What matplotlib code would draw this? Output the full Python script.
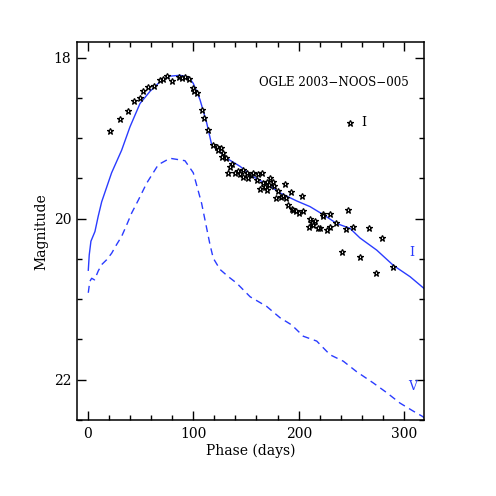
import matplotlib
matplotlib.use("Agg")
import matplotlib.pyplot as plt
from matplotlib.ticker import MultipleLocator

# Observed I-band photometry (phase in days, magnitude)
obs_phase = [21.1, 30.6, 38.5, 43.6, 49.3, 52.4, 56.9, 63.2, 68.2, 71.7, 75.2, 79.6,
             86.3, 89.4, 92.5, 95.7, 99.5, 101.0, 103.3, 108.6, 110.2, 114.3,
             119.1, 122.3, 126.0, 123.8, 128.5, 127.6, 131.1, 136.5, 134.9, 133.3,
             139.6, 142.8, 144.4, 147.5, 146.9, 150.7, 152.2, 154.5, 156.4, 161.7,
             164.9, 160.2, 165.9, 169.7, 163.3, 168.1, 172.1, 170.2, 172.8, 175.9,
             176.6, 180.7, 178.5, 182.9, 185.4, 188.0, 187.3, 192.4, 190.1, 193.4,
             194.9, 197.4, 200.6, 202.8, 204.4, 210.7, 212.3, 213.8, 210.0, 215.5,
             220.2, 223.3, 222.7, 229.7, 229.7, 235.4, 218.0, 227.1, 244.5, 247.0,
             251.2, 241.0, 258.1, 266.9, 279.0, 273.0, 289.7]
obs_mag = [18.91, 18.76, 18.66, 18.54, 18.50, 18.41, 18.36, 18.35, 18.28, 18.27, 18.23, 18.29,
           18.24, 18.25, 18.24, 18.26, 18.38, 18.42, 18.44, 18.65, 18.75, 18.90,
           19.09, 19.11, 19.12, 19.15, 19.18, 19.23, 19.25, 19.32, 19.36, 19.43,
           19.43, 19.41, 19.45, 19.39, 19.48, 19.43, 19.49, 19.46, 19.43, 19.44,
           19.43, 19.52, 19.56, 19.54, 19.63, 19.61, 19.58, 19.65, 19.50, 19.54,
           19.59, 19.66, 19.74, 19.73, 19.72, 19.74, 19.57, 19.67, 19.83, 19.88,
           19.89, 19.91, 19.93, 19.72, 19.91, 20.01, 20.05, 20.08, 20.10, 20.03,
           20.12, 19.94, 19.97, 19.94, 20.10, 20.05, 20.12, 20.14, 20.13, 19.89,
           20.10, 20.41, 20.47, 20.12, 20.24, 20.68, 20.60]

# Model I-band light curve (solid)
modI_phase = [0.6, 1.5, 3.1, 6.9, 10.0, 13.3, 22.7, 32.2, 40.1, 49.6, 59.0, 68.5, 78.0,
              87.5, 95.4, 100.1, 106.4, 112.8, 117.5, 123.8, 131.8, 144.4, 157.0,
              169.7, 182.3, 198.1, 210.7, 223.3, 236.0, 248.6, 258.1, 273.9, 289.7,
              305.5, 320.0]
modI_mag = [20.64, 20.45, 20.28, 20.16, 19.97, 19.79, 19.43, 19.15, 18.86, 18.57, 18.42,
            18.30, 18.23, 18.22, 18.24, 18.32, 18.52, 18.81, 19.08, 19.15, 19.25, 19.35,
            19.48, 19.57, 19.68, 19.78, 19.85, 19.95, 20.06, 20.12, 20.24, 20.39, 20.58,
            20.72, 20.88]

# Model V-band light curve (dashed)
modV_phase = [0.6, 2.0, 3.8, 6.5, 10.0, 13.3, 18.0, 22.7, 27.5, 32.2, 36.9, 41.7, 48.0,
              55.9, 66.9, 78.0, 92.2, 100.1, 108.0, 115.9, 119.0, 125.4, 133.3, 141.2,
              154.0, 169.7, 182.3, 193.4, 204.4, 217.1, 229.7, 242.3, 254.9, 270.7,
              283.4, 296.0, 308.6, 316.6, 320.0]
modV_mag = [20.92, 20.78, 20.74, 20.76, 20.65, 20.57, 20.51, 20.43, 20.32, 20.22, 20.08,
            19.93, 19.77, 19.56, 19.33, 19.25, 19.28, 19.43, 19.81, 20.32, 20.49, 20.63,
            20.72, 20.80, 20.97, 21.09, 21.23, 21.32, 21.46, 21.52, 21.69, 21.77, 21.90,
            22.04, 22.16, 22.29, 22.39, 22.45, 22.48]

blue = '#2a3cff'
plt.rcParams['font.family'] = ['DejaVu Serif']

fig = plt.figure(figsize=(4.96, 4.96), dpi=100)
ax = fig.add_axes([0.1546, 0.1532, 0.7008, 0.7615])

ax.plot(modI_phase, modI_mag, color=blue, lw=1.0)
ax.plot(modV_phase, modV_mag, color=blue, lw=1.0, dashes=(5, 3.5))
ax.plot(obs_phase, obs_mag, linestyle='none', marker='*', markersize=5,
        markerfacecolor='white', markeredgecolor='black', markeredgewidth=0.9)

# legend-like marker
ax.plot([249], [18.81], linestyle='none', marker='*', markersize=5,
        markerfacecolor='white', markeredgecolor='black', markeredgewidth=0.9)
ax.text(259, 18.81, 'I', fontsize=9, va='center', ha='left')
ax.text(233, 18.31, 'OGLE 2003\u2212NOOS\u2212005', fontsize=8.6, ha='center', va='center')
ax.text(307.5, 20.42, 'I', fontsize=9, color=blue, ha='center', va='center')
ax.text(307.5, 22.09, 'V', fontsize=9, color=blue, ha='center', va='center')

ax.set_xlim(-10.4, 319)
ax.set_ylim(22.5, 17.81)
ax.xaxis.set_major_locator(MultipleLocator(100))
ax.xaxis.set_minor_locator(MultipleLocator(20))
ax.yaxis.set_major_locator(MultipleLocator(2))
ax.yaxis.set_minor_locator(MultipleLocator(0.5))
ax.tick_params(which='both', direction='in', top=True, right=True, width=1.0,
               labelsize=10)
ax.tick_params(which='major', length=6.5, pad=5)
ax.tick_params(which='minor', length=3.6)
ax.tick_params(axis='y', which='major', pad=4)
for s in ax.spines.values():
    s.set_linewidth(1.1)

ax.set_xlabel('Phase (days)', fontsize=10, labelpad=2)
ax.set_ylabel('Magnitude', fontsize=10, labelpad=4)

fig.savefig('out.png', dpi=100)
